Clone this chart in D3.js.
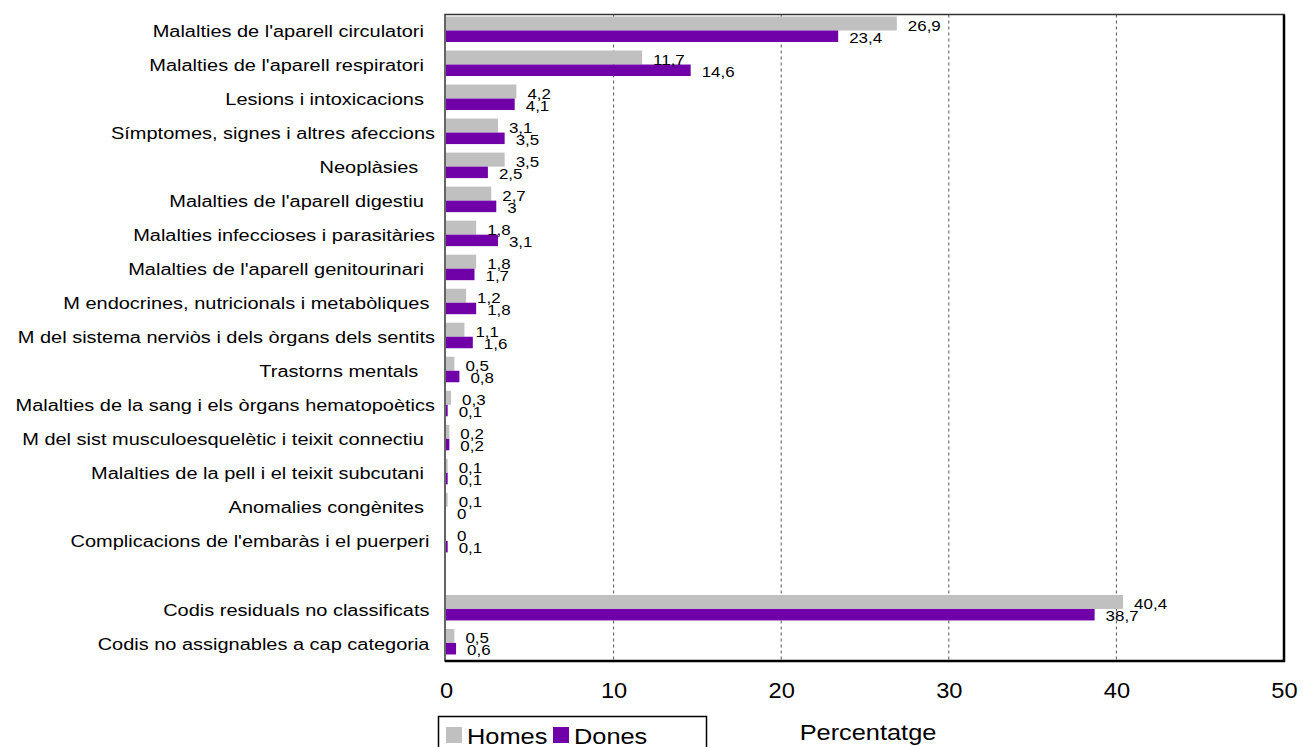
<!DOCTYPE html>
<html lang="ca">
<head>
<meta charset="UTF-8">
<title>Percentatge per causa</title>
<style>
  body { margin: 0; background: #fff; }
  svg { display: block; font-family: "Liberation Sans", Arial, sans-serif; }
  .cat text { white-space: pre; }
</style>
</head>
<body>
<svg id="chart"></svg>
<script src="https://cdnjs.cloudflare.com/ajax/libs/d3/7.9.0/d3.min.js"></script>
<script>
// categories (trailing spaces are part of the original labels, "" = gap row)
const categories = [
  "Malalties de l'aparell circulatori  ",
  "Malalties de l'aparell respiratori  ",
  "Lesions i intoxicacions  ",
  "Símptomes, signes i altres afeccions",
  "Neoplàsies   ",
  "Malalties de l'aparell digestiu  ",
  "Malalties infeccioses i parasitàries",
  "Malalties de l'aparell genitourinari  ",
  "M endocrines, nutricionals i metabòliques ",
  "M del sistema nerviòs i dels òrgans dels sentits",
  "Trastorns mentals   ",
  "Malalties de la sang i els òrgans hematopoètics",
  "M del sist musculoesquelètic i teixit connectiu  ",
  "Malalties de la pell i el teixit subcutani  ",
  "Anomalies congènites  ",
  "Complicacions de l'embaràs i el puerperi ",
  "",
  "Codis residuals no classificats ",
  "Codis no assignables a cap categoria "
];
const homes = [26.9, 11.7, 4.2, 3.1, 3.5, 2.7, 1.8, 1.8, 1.2, 1.1, 0.5, 0.3, 0.2, 0.1, 0.1, 0, null, 40.4, 0.5];
const dones = [23.4, 14.6, 4.1, 3.5, 2.5, 3, 3.1, 1.7, 1.8, 1.6, 0.8, 0.1, 0.2, 0.1, 0, 0.1, null, 38.7, 0.6];
const xTicks = [0, 10, 20, 30, 40, 50];
const seriesNames = ["Homes", "Dones"];
const colors = ["#c0c0c0", "#7000a8"];

const W = 1303, H = 747;
const pLeft = 446, pRight = 1284, pTop = 14.5, pBottom = 661;

const svg = d3.select("#chart").attr("width", W).attr("height", H);

const x = d3.scaleLinear().domain([0, 50]).range([pLeft, pRight]);
const y = d3.scaleBand().domain(d3.range(categories.length)).range([pTop, pBottom]);

// the original's text is rendered a bit wide: stretch horizontally
function stretch(sel, s) {
  sel.each(function () {
    const t = d3.select(this);
    const tx = +t.attr("x") || 0, ty = +t.attr("y") || 0;
    t.attr("x", 0).attr("y", 0).attr("transform", `translate(${tx},${ty}) scale(${s},1)`);
  });
}

// gridlines
svg.append("g")
  .selectAll("line")
  .data(xTicks.slice(1, -1))
  .join("line")
  .attr("x1", d => x(d)).attr("x2", d => x(d))
  .attr("y1", pTop).attr("y2", pBottom)
  .attr("stroke", "#555")
  .attr("stroke-dasharray", "3,3");

// bars
const rows = categories.map((c, i) => ({ i, h: homes[i], d: dones[i] })).filter(r => r.h !== null);
const fmt = v => String(v).replace(".", ",");

const g = svg.append("g");
g.selectAll(".bh").data(rows).join("rect")
  .attr("x", x(0)).attr("y", r => y(r.i) + 2)
  .attr("width", r => x(r.h) - x(0)).attr("height", 14)
  .attr("fill", colors[0]);
g.selectAll(".bd").data(rows).join("rect")
  .attr("x", x(0)).attr("y", r => y(r.i) + 16)
  .attr("width", r => x(r.d) - x(0)).attr("height", 11.5)
  .attr("fill", colors[1]);

// value labels
g.selectAll(".lh").data(rows).join("text")
  .attr("x", r => x(r.h) + 11).attr("y", r => y(r.i) + 16)
  .attr("font-size", 15.4).text(r => fmt(r.h))
  .call(stretch, 1.1);
g.selectAll(".ld").data(rows).join("text")
  .attr("x", r => x(r.d) + 11).attr("y", r => y(r.i) + 28)
  .attr("font-size", 15.4).text(r => fmt(r.d))
  .call(stretch, 1.1);

// y axis (category labels)
const yAxis = svg.append("g")
  .attr("class", "cat")
  .attr("transform", `translate(${pLeft - 1},0)`)
  .call(d3.axisLeft(y).tickSize(0).tickPadding(10).tickFormat(i => categories[i]));
yAxis.select(".domain").remove();
yAxis.selectAll("text").attr("font-size", 17.3).attr("fill", "#000").attr("dy", "0.32em")
  .call(stretch, 1.155);

// x axis
const xAxis = svg.append("g")
  .attr("transform", `translate(0,${pBottom})`)
  .call(d3.axisBottom(x).tickValues(xTicks).tickSize(0).tickPadding(22));
xAxis.select(".domain").remove();
xAxis.selectAll("text").attr("font-size", 21.5).attr("fill", "#000")
  .call(stretch, 1.1);

// frame
svg.append("rect")
  .attr("x", pLeft - 1).attr("y", pTop).attr("width", pRight - pLeft + 1).attr("height", pBottom - pTop)
  .attr("fill", "none").attr("stroke", "#333").attr("stroke-width", 1.5);
svg.append("path")
  .attr("d", `M${pLeft - 1},${pBottom}H${pRight}V${pTop}`)
  .attr("fill", "none").attr("stroke", "#000").attr("stroke-width", 2.5);

// axis title
svg.append("text")
  .attr("x", 868).attr("y", 740).attr("text-anchor", "middle")
  .attr("font-size", 21.5).text("Percentatge")
  .call(stretch, 1.18);

// legend
const lg = svg.append("g");
lg.append("rect").attr("x", 438.5).attr("y", 716.5).attr("width", 268).attr("height", 40)
  .attr("fill", "#fff").attr("stroke", "#000").attr("stroke-width", 1.5);
const lx = [446, 553];
seriesNames.forEach((s, k) => {
  lg.append("rect").attr("x", lx[k]).attr("y", 727).attr("width", 16).attr("height", 16).attr("fill", colors[k]);
  lg.append("text").attr("x", lx[k] + 21).attr("y", 744).attr("font-size", 21.5)
    .text(s).call(stretch, 1.18);
});
</script>
</body>
</html>
